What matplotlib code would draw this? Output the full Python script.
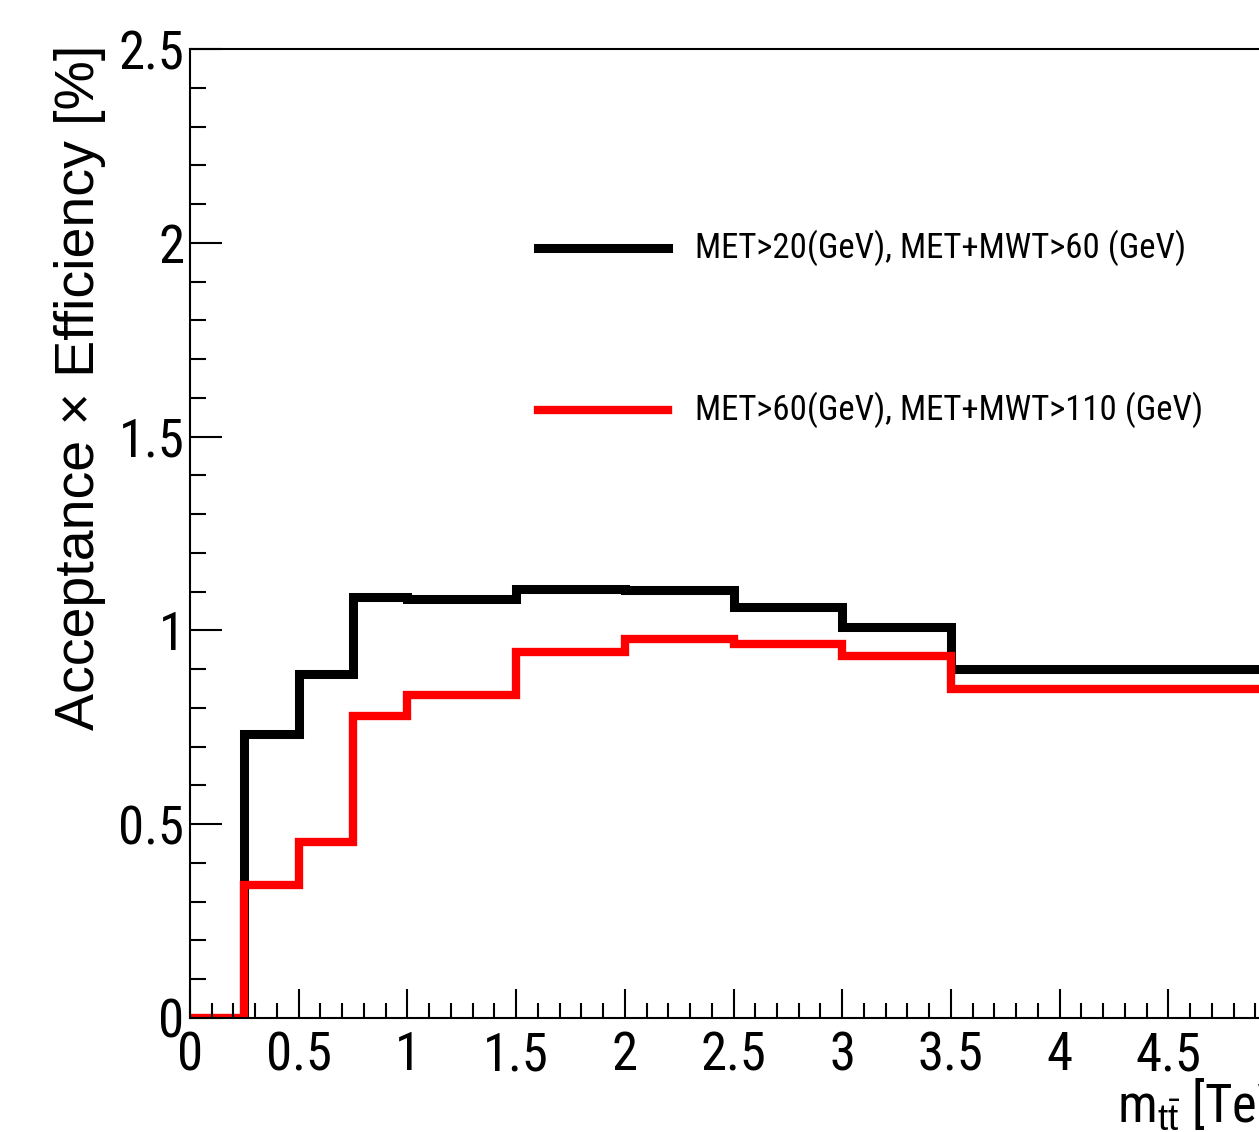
import matplotlib
matplotlib.use("Agg")
import matplotlib.pyplot as plt
from matplotlib.ticker import MultipleLocator, FuncFormatter
import numpy as np

# ROOT style fonts (narrow helvetica if present, else condensed)
plt.rcParams['font.family'] = ['Liberation Sans Narrow', 'Roboto Condensed', 'Liberation Sans', 'DejaVu Sans']
plt.rcParams['mathtext.fontset'] = 'custom'
plt.rcParams['mathtext.rm'] = 'Liberation Sans'
plt.rcParams['mathtext.it'] = 'Liberation Sans'

# bin edges in TeV
edges = [0, 0.25, 0.5, 0.75, 1.0, 1.5, 2.0, 2.5, 3.0, 3.5, 5.0]
# acceptance x efficiency [%]
eff_met20 = [0.0, 0.732, 0.887, 1.085, 1.081, 1.108, 1.104, 1.060, 1.009, 0.901]
eff_met60 = [0.0, 0.344, 0.454, 0.780, 0.834, 0.943, 0.979, 0.964, 0.933, 0.850]
err_met60 = [0.0, 0.004, 0.005, 0.006, 0.004, 0.005, 0.005, 0.006, 0.009, 0.004]
label_met20 = "MET>20(GeV), MET+MWT>60 (GeV)"
label_met60 = "MET>60(GeV), MET+MWT>110 (GeV)"

fig = plt.figure(figsize=(12.59, 11.32), dpi=100)
ax = fig.add_axes([190/1259, 1-1018/1132, (1277-190)/1259, (1018-49)/1132])

ax.stairs(eff_met20, edges, color='black', linewidth=6.5, baseline=None)
ax.stairs(eff_met60, edges, color='red', linewidth=6.0, baseline=None)
centers = 0.5*(np.array(edges[1:]) + np.array(edges[:-1]))
ax.errorbar(centers[1:], eff_met60[1:], yerr=err_met60[1:], fmt='none',
            ecolor='red', elinewidth=3, capsize=0)

ax.set_xlim(0, 5)
ax.set_ylim(0, 2.5)
ax.xaxis.set_major_locator(MultipleLocator(0.5))
ax.xaxis.set_minor_locator(MultipleLocator(0.1))
ax.yaxis.set_major_locator(MultipleLocator(0.5))
ax.yaxis.set_minor_locator(MultipleLocator(0.1))
ax.yaxis.set_major_formatter(FuncFormatter(lambda v, p: '%g' % v))
ax.tick_params(which='both', direction='in', top=False, right=False, width=1.5)
ax.tick_params(which='major', labelsize=38)
ax.tick_params(axis='y', which='major', length=23, pad=4)
ax.tick_params(axis='y', which='minor', length=11.5)
ax.tick_params(axis='x', which='major', length=21, pad=9)
ax.tick_params(axis='x', which='minor', length=11)
ax.set_xticks(np.arange(0, 5.0, 0.5))
ax.set_xticklabels(['0', '0.5', '1', '1.5', '2', '2.5', '3', '3.5', '4', '4.5'])
for s in ax.spines.values():
    s.set_linewidth(1.5)

ax.set_ylabel("Acceptance \u00d7 Efficiency [%]", family=['Liberation Sans', 'DejaVu Sans'],
              fontsize=40)
ax.yaxis.set_label_coords(-0.101, 1.004)
ax.yaxis.label.set_ha('right')
ax.yaxis.label.set_va('center')

fig.text(1117/1259, 1-1122/1132, r"m$_{t\bar{t}}$ [TeV]", ha='left', va='baseline', fontsize=38)

# legend drawn by hand like ROOT TLegend
ax.plot([1.6, 2.2], [1.987, 1.987], color='black', linewidth=6.5)
ax.plot([1.6, 2.2], [1.569, 1.569], color='red', linewidth=6.0)
ax.text(2.324, 1.987, label_met20, fontsize=25, va='center')
ax.text(2.324, 1.569, label_met60, fontsize=25, va='center')

fig.savefig("out.png", dpi=100)
